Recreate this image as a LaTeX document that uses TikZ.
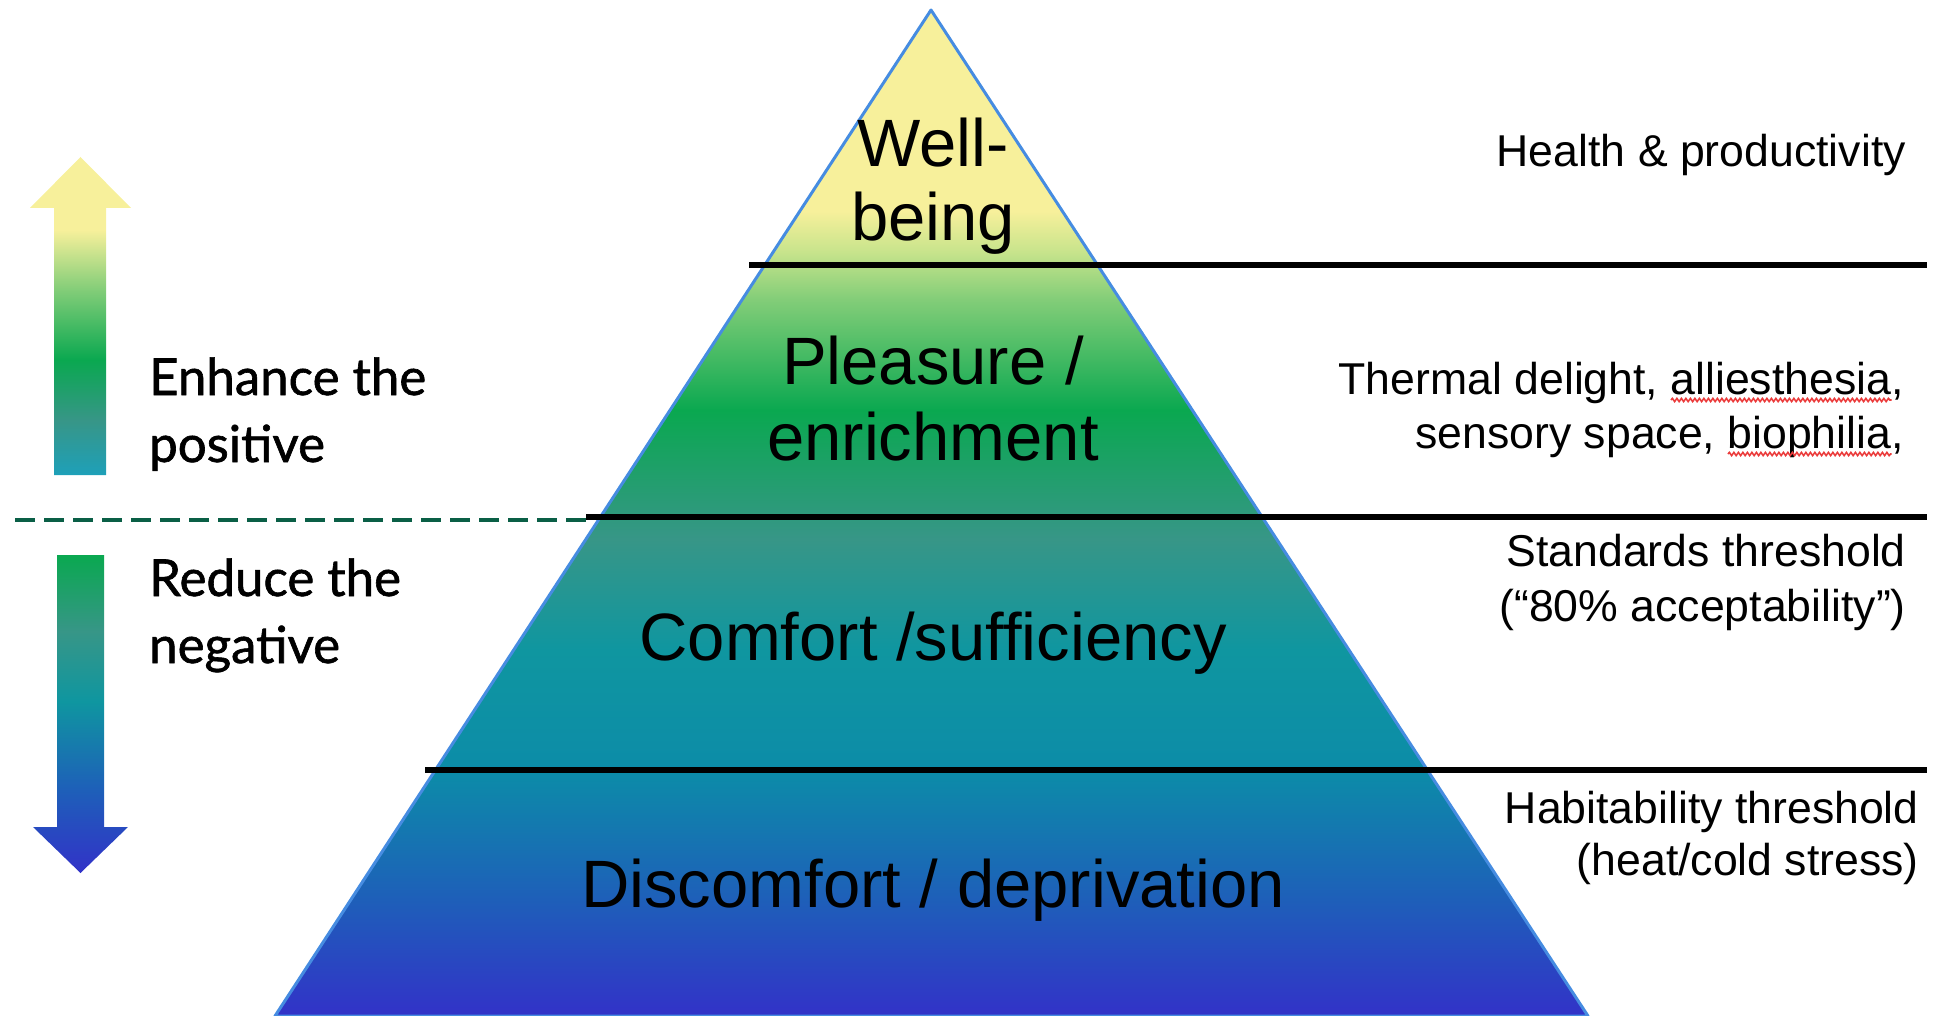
\documentclass[tikz,border=0pt]{standalone}
\usepackage{fontspec}
\usetikzlibrary{decorations.pathmorphing}
\setmainfont{Liberation Sans}
\newfontfamily\gillfont[FakeBold=1.2]{Lato}
\definecolor{cY}{RGB}{247,240,155}
\definecolor{cYG}{RGB}{200,228,140}
\definecolor{cLG}{RGB}{130,205,120}
\definecolor{cG}{RGB}{10,168,80}
\definecolor{cGT}{RGB}{55,150,135}
\definecolor{cT2}{RGB}{15,150,160}
\definecolor{cT1}{RGB}{12,140,168}
\definecolor{cB}{RGB}{30,95,185}
\definecolor{cI}{RGB}{50,50,200}
\definecolor{cAT}{RGB}{30,160,185}
\definecolor{cEdge}{RGB}{70,140,225}
\definecolor{cDash}{RGB}{10,95,70}
\definecolor{cWave}{RGB}{235,60,60}
\newlength\wordA \newlength\wordB \newlength\commaW
\pgfdeclareverticalshading{pyrsh}{100bp}{color(0bp)=(cI); color(25bp)=(cI); color(30.8bp)=(cB); color(37.2bp)=(cT1); color(43.2bp)=(cT2); color(48.7bp)=(cGT); color(55.1bp)=(cG); color(60.6bp)=(cLG); color(63bp)=(cYG); color(65bp)=(cY); color(100bp)=(cY)}
\pgfdeclareverticalshading{upsh}{100bp}{color(0bp)=(cAT); color(25bp)=(cAT); color(33.6bp)=(cGT); color(43.1bp)=(cG); color(54.1bp)=(cLG); color(63.5bp)=(cY); color(100bp)=(cY)}
\pgfdeclareverticalshading{downsh}{100bp}{color(0bp)=(cI); color(25bp)=(cI); color(38bp)=(cB); color(52bp)=(cT2); color(63bp)=(cGT); color(75bp)=(cG); color(100bp)=(cG)}
\newcommand\rfont{\fontsize{44.6}{56}\selectfont}
\tikzset{
  rtext/.style={font=\rfont, inner sep=0pt, anchor=base east},
  ptext/.style={font=\fontsize{67}{78}\selectfont, inner sep=0pt, anchor=base},
  ltext/.style={font=\gillfont\fontsize{51}{66}\selectfont, inner sep=0pt, anchor=base west},
  thresh/.style={line width=6.5pt, black},
  dashline/.style={line width=4pt, cDash, dash pattern=on 20pt off 9pt},
  wavy/.style={cWave, line width=1.6pt, decorate, decoration={snake, amplitude=1.6pt, segment length=4.5pt}},
}
\begin{document}
\settowidth{\wordA}{\rfont alliesthesia}%
\settowidth{\wordB}{\rfont biophilia}%
\settowidth{\commaW}{\rfont ,}%
\begin{tikzpicture}[x=1pt,y=-1pt]
\useasboundingbox (0,0) rectangle (1941,1016);
% pyramid
\shadedraw[shading=pyrsh, draw=cEdge, line width=3pt, line join=round]
  (931,10) -- (1588,1016) -- (275,1016) -- cycle;
% arrows
\shade[shading=upsh] (54,475) -- (54,208) -- (30,208) -- (80.5,157) -- (131,208) -- (106,208) -- (106,475) -- cycle;
\shade[shading=downsh] (57,555) -- (104,555) -- (104,827) -- (128,827) -- (80.5,873) -- (33,827) -- (57,827) -- cycle;
% threshold lines
\coordinate (l1a) at (749,265); \coordinate (l1b) at (1927,265);
\coordinate (l2a) at (586,517); \coordinate (l2b) at (1927,517);
\coordinate (l3a) at (425,770); \coordinate (l3b) at (1927,770);
\draw[thresh] (l1a) -- (l1b);
\draw[thresh] (l2a) -- (l2b);
\draw[thresh] (l3a) -- (l3b);
\coordinate (da) at (15,520); \coordinate (db) at (586,520);
\draw[dashline] (da) -- (db);
% pyramid labels
\node[ptext] (wb1) at (933,167) {Well-};
\node[ptext] (wb2) at (933,241) {being};
\node[ptext] (pe1) at (933,384) {Pleasure /};
\node[ptext] (pe2) at (933,460) {enrichment};
\node[ptext] (cs) at (933,660) {Comfort /sufficiency};
\node[ptext] (dd) at (933,907) {Discomfort / deprivation};
% left labels
\node[ltext] (en1) at (149,395) {Enhance the};
\node[ltext] (en2) at (149,462) {positive};
\node[ltext] (rn1) at (149,596) {Reduce the};
\node[ltext] (rn2) at (149,663) {negative};
% right labels
\node[rtext] (hp) at (1906,167) {Health \& productivity};
\node[rtext] (td1) at (1904,394) {Thermal delight, alliesthesia,};
\node[rtext] (td2) at (1904,448) {sensory space, biophilia,};
\node[rtext] (st1) at (1906,566) {Standards threshold};
\node[rtext] (st2) at (1906,621) {(“80\% acceptability”)};
\node[rtext] (ht1) at (1919,823) {Habitability threshold};
\node[rtext] (ht2) at (1919,875) {(heat/cold stress)};
% spell-check squiggles
\coordinate (w1a) at ([xshift=-\commaW-\wordA, yshift=-6pt]td1.base east);
\coordinate (w1b) at ([xshift=-\commaW, yshift=-6pt]td1.base east);
\coordinate (w2a) at ([xshift=-\commaW-\wordB, yshift=-6pt]td2.base east);
\coordinate (w2b) at ([xshift=-\commaW, yshift=-6pt]td2.base east);
\draw[wavy] (w1a) -- (w1b);
\draw[wavy] (w2a) -- (w2b);
\end{tikzpicture}
\end{document}
